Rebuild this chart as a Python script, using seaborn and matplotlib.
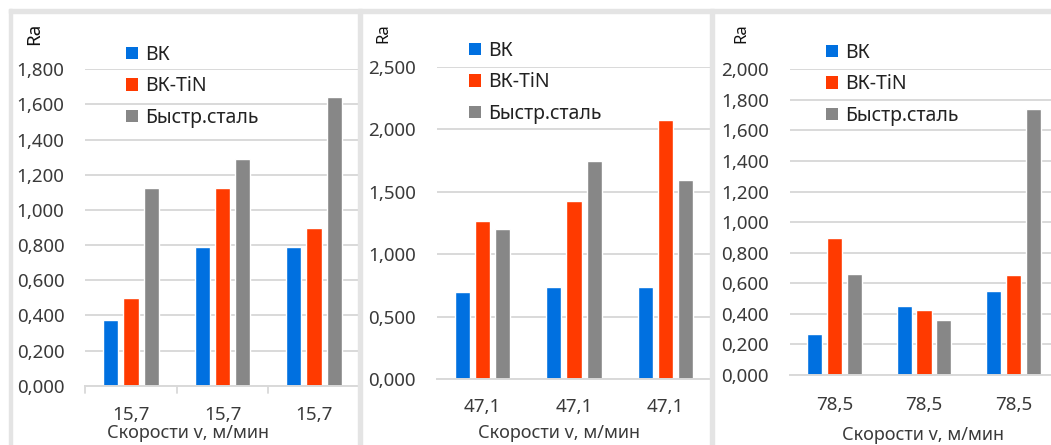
import matplotlib
matplotlib.use("Agg")
import matplotlib.pyplot as plt
from matplotlib.patches import Patch, Rectangle
import matplotlib.transforms as mtransforms
import numpy as np
import pandas as pd
import seaborn as sns

# Surface roughness Ra for three tool materials at three cutting speeds
tools = ["ВК", "ВК-TiN", "Быстр.сталь"]
tool_colors = ["#0070E0", "#FF3A00", "#878787"]
runs = [0, 1, 2]

speed_15_labels = ["15,7", "15,7", "15,7"]
vk_15 = [0.375, 0.790, 0.790]
vktin_15 = [0.500, 1.125, 0.895]
hss_15 = [1.125, 1.290, 1.645]

speed_47_labels = ["47,1", "47,1", "47,1"]
vk_47 = [0.700, 0.735, 0.735]
vktin_47 = [1.265, 1.425, 2.075]
hss_47 = [1.200, 1.745, 1.595]

speed_78_labels = ["78,5", "78,5", "78,5"]
vk_78 = [0.270, 0.450, 0.550]
vktin_78 = [0.895, 0.425, 0.655]
hss_78 = [0.660, 0.360, 1.740]

y_tops = [1.8, 2.5, 2.0]
y_steps = [0.2, 0.5, 0.2]

x_title = "Скорости v, м/мин"
y_title = "Ra"

sns.set_theme(style="white")
plt.rcParams["font.family"] = ["Noto Sans", "DejaVu Sans"]

W, H = 1051, 445
fig = plt.figure(figsize=(W / 100, H / 100), dpi=100)
fig.patch.set_facecolor("white")

# pixel layout of each panel: plot edges (x0, x1), baseline y0, top y1,
# centre line of the category labels (xtick_y) and of the axis title (xlab)
panels = [
    dict(x0=85.25, x1=359.75, y0=385.7, y1=69.3, labels=speed_15_labels,
         series=[vk_15, vktin_15, hss_15], ra=(34, 34), ra_size=13.5,
         xtick_y=415, xlab=(188, 433), legend=(126, 45), seps=True),
    dict(x0=436.75, x1=711.25, y0=379.0, y1=66.7, labels=speed_47_labels,
         series=[vk_47, vktin_47, hss_47], ra=(383, 33), ra_size=12,
         xtick_y=407, xlab=(559, 433), legend=(469, 41), seps=False),
    dict(x0=789.75, x1=1058.25, y0=375.0, y1=69.3, labels=speed_78_labels,
         series=[vk_78, vktin_78, hss_78], ra=(741, 33), ra_size=12,
         xtick_y=405, xlab=(923, 435), legend=(826, 43), seps=False),
]

grid_c = "#d9d9d9"
text_c = "#3a3a3a"

for p, top, step in zip(panels, y_tops, y_steps):
    pw, ph = p["x1"] - p["x0"], p["y0"] - p["y1"]
    ax = fig.add_axes([p["x0"] / W, 1 - p["y0"] / H, pw / W, ph / H])
    df = pd.DataFrame({
        "run": np.tile(runs, len(tools)),
        "tool": np.repeat(tools, len(runs)),
        "Ra": np.concatenate(p["series"]),
    })
    sns.barplot(data=df, x="run", y="Ra", hue="tool", order=runs,
                hue_order=tools, palette=tool_colors, width=0.664,
                gap=0.235, saturation=1, legend=False, ax=ax)

    ax.set_xlim(-0.5, 2.5)
    ax.set_ylim(0, top)
    yt = np.arange(0, top + step / 2, step)
    ax.set_yticks(yt)
    ax.set_yticklabels([f"{v:.3f}".replace(".", ",") for v in yt])
    ax.set_xticks(runs)
    ax.set_xticklabels(p["labels"])
    ax.tick_params(axis="y", length=0, pad=15, labelsize=13.5, labelcolor=text_c)
    ax.tick_params(axis="x", length=0, labelsize=13.5, labelcolor=text_c,
                   pad=(p["xtick_y"] - p["y0"]) * 0.72)
    for lab in ax.get_xticklabels():
        lab.set_va("center")

    ax.set_axisbelow(True)
    ax.yaxis.grid(True, color=grid_c, lw=1.4)
    ax.xaxis.grid(False)
    for s in ["top", "right", "left"]:
        ax.spines[s].set_visible(False)
    ax.spines["bottom"].set_color(grid_c)
    ax.spines["bottom"].set_linewidth(1.4)

    if p["seps"]:
        # short category separators below the axis line
        tr = mtransforms.blended_transform_factory(ax.transData, ax.transAxes)
        for xs in [-0.5, 0.5, 1.5, 2.5]:
            ax.plot([xs, xs], [0, -7.5 / ph], color=grid_c, lw=1.3,
                    transform=tr, clip_on=False)

    ax.set_xlabel(x_title, fontsize=13, color=text_c)
    ax.xaxis.set_label_coords((p["xlab"][0] - p["x0"]) / pw,
                              (p["y0"] - p["xlab"][1]) / ph)
    ax.xaxis.label.set_va("center")
    ax.set_ylabel("")
    fig.text(p["ra"][0] / W, 1 - p["ra"][1] / H, y_title, rotation=90,
             ha="center", va="center", fontsize=p["ra_size"], color="#111111")

    handles = [Patch(facecolor=c, edgecolor="none") for c in tool_colors]
    lx, ly = p["legend"]
    fig.legend(handles, tools, loc="upper left",
               bbox_to_anchor=(lx / W, 1 - ly / H), frameon=False,
               fontsize=14, handlelength=0.6, handleheight=0.6,
               handletextpad=0.4, labelspacing=0.58, borderpad=0,
               borderaxespad=0, labelcolor="#222222")

# light chart-area borders around each panel
border_c = "#e4e4e4"
for x0 in [8.5, 358.0, 710.0]:
    fig.patches.append(Rectangle((x0 / W, 0), 3.5 / W, 1 - 9 / H,
                                 transform=fig.transFigure, color=border_c,
                                 zorder=5))
fig.patches.append(Rectangle((8.5 / W, 1 - 12.5 / H), 1, 3.5 / H,
                             transform=fig.transFigure, color=border_c, zorder=5))

fig.savefig("out.png", dpi=100)
